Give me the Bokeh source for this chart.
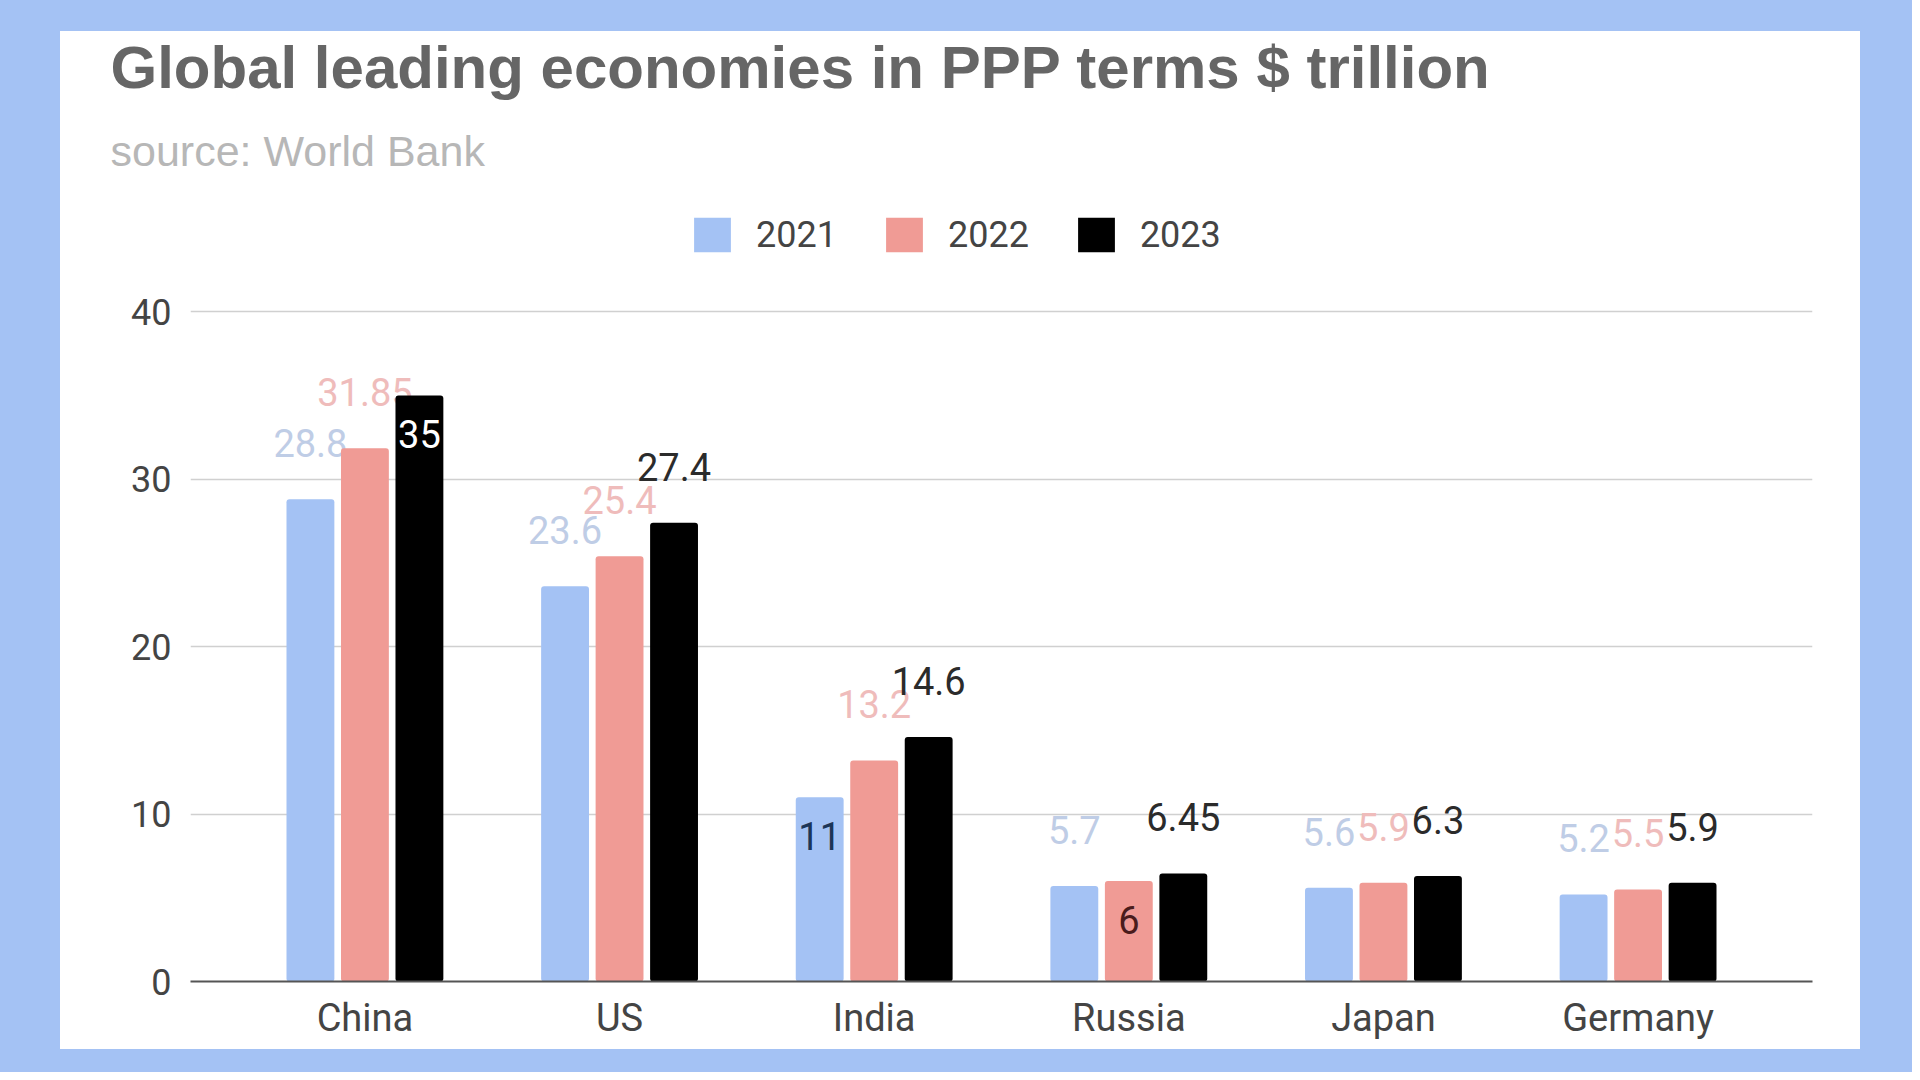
from bokeh.plotting import figure
from bokeh.models import (FactorRange, Range1d, ColumnDataSource, Legend, LegendItem,
                          Title, FixedTicker)
from bokeh.transform import dodge
from bokeh.layouts import column
from bokeh.embed import file_html
from bokeh.resources import INLINE
from bokeh.core.properties import value

# ---- data ----
countries = ["China", "US", "India", "Russia", "Japan", "Germany"]
years = ["2021", "2022", "2023"]
v2021 = [28.8, 23.6, 11, 5.7, 5.6, 5.2]
v2022 = [31.85, 25.4, 13.2, 6, 5.9, 5.5]
v2023 = [35, 27.4, 14.6, 6.45, 6.3, 5.9]
y_ticks = [0, 10, 20, 30, 40]

# ---- label placement style ("out" above bar, "in" inside bar) ----
place2021 = ["out", "out", "in", "out", "out", "out"]
place2022 = ["out", "out", "out", "in", "out", "out"]
place2023 = ["in", "out", "out", "out", "out", "out"]

BAR_COLORS = ["#a4c2f4", "#f09b95", "#000000"]
OUT_TEXT = ["#bfcde6", "#efbcbb", "#2b2b2b"]
IN_TEXT = ["#1c3557", "#4a1c1c", "#ffffff"]
OFFSETS = [-0.214, 0.0, 0.214]
FONT = "Roboto"
Y_END = 46.76  # headroom above the 40 gridline for the legend

p = figure(x_range=FactorRange(factors=countries, range_padding=0.185,
                               range_padding_units="absolute"),
           y_range=Range1d(0, Y_END), title=None,
           width=1800, height=1018, output_backend="svg", toolbar_location=None,
           min_border_left=130, min_border_right=48, min_border_top=0,
           min_border_bottom=68, background_fill_color=None,
           border_fill_color=None, outline_line_color=None)
p.margin = (31, 52, 23, 60)
p.styles = {"background-color": "white"}

renderers = []
for i, (yr, vals, place) in enumerate(zip(years, [v2021, v2022, v2023],
                                          [place2021, place2022, place2023])):
    dy = [39 if pl == "in" else -56 for pl in place]
    tcol = [IN_TEXT[i] if pl == "in" else OUT_TEXT[i] for pl in place]
    src = ColumnDataSource(dict(country=countries, val=vals,
                                lab=[f"{v:g}" for v in vals], dy=dy, tcol=tcol))
    r = p.vbar(x=dodge("country", OFFSETS[i], range=p.x_range), top="val",
               width=0.188, source=src, fill_color=BAR_COLORS[i], line_color=None,
               border_radius=3)
    renderers.append(r)
    p.text(x=dodge("country", OFFSETS[i], range=p.x_range), y="val", text="lab",
           y_offset="dy", text_color="tcol", text_align="center",
           text_baseline="middle", text_font=value(FONT), text_font_size="38px",
           source=src)

legend = Legend(items=[LegendItem(label=yr, renderers=[r]) for yr, r in zip(years, renderers)],
                orientation="horizontal", location=(499, 725),
                glyph_width=46, glyph_height=43, label_standoff=21, spacing=44,
                label_text_font=FONT, label_text_font_size="36px",
                label_text_color="#444444", border_line_color=None,
                background_fill_alpha=0, padding=0, margin=0)
p.add_layout(legend)

p.add_layout(Title(text="source: World Bank", text_font="Liberation Sans",
                   text_font_size="43px", text_color="#b7b7b7",
                   text_font_style="normal", align="left", offset=-80,
                   standoff=48), "above")
p.add_layout(Title(text="Global leading economies in PPP terms $ trillion",
                   text_font="Liberation Sans", text_font_style="bold",
                   text_font_size="60px", text_color="#666666",
                   align="left", offset=-80, standoff=0), "above")

p.xgrid.visible = False
p.ygrid.grid_line_color = "#d0d0d0"
p.ygrid.grid_line_width = 1.5
p.yaxis.ticker = FixedTicker(ticks=y_ticks)
p.yaxis.axis_line_color = None
p.yaxis.major_tick_line_color = None
p.yaxis.minor_tick_line_color = None
p.yaxis.major_tick_out = 0
p.yaxis.major_label_standoff = 19
p.yaxis.major_label_text_font = FONT
p.yaxis.major_label_text_font_size = "36px"
p.yaxis.major_label_text_color = "#444444"

p.xaxis.axis_line_color = "#555555"
p.xaxis.axis_line_width = 2
p.xaxis.major_tick_line_color = None
p.xaxis.major_tick_out = 0
p.xaxis.major_label_standoff = 14
p.xaxis.major_label_text_font = FONT
p.xaxis.major_label_text_font_size = "38px"
p.xaxis.major_label_text_color = "#444444"

layout = column(p, styles={"background-color": "#a4c2f4"})
open("out.html", "w").write(file_html(layout, INLINE))
